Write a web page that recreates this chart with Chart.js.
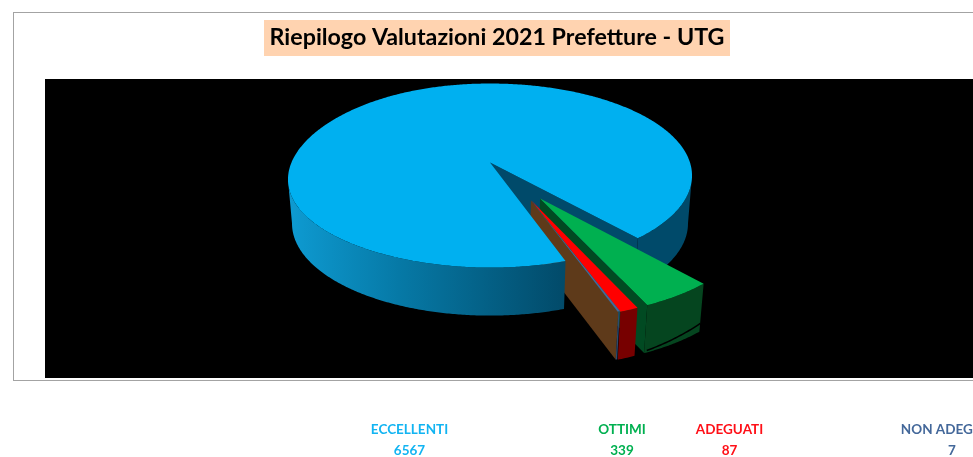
<!DOCTYPE html>
<html>
<head>
<meta charset="utf-8">
<style>html,body{margin:0;padding:0;background:#fff;overflow:hidden}canvas{display:block}</style>
<script src="https://cdn.jsdelivr.net/npm/chart.js@4"></script>
</head>
<body>
<canvas id="c" width="973" height="457"></canvas>
<script>
const chartTitle = 'Riepilogo Valutazioni 2021 Prefetture - UTG';
const categories = ['ECCELLENTI', 'OTTIMI', 'ADEGUATI', 'NON ADEGUATI'];
const values = [6567, 339, 87, 7];
const topColors = ['#00B0F0', '#00B050', '#FF0000', '#44689A'];
const labelColors = ['#12B4F2', '#00B050', '#FF1018', '#44689A'];
const labelCentres = [409.5, 622, 729.5, 952];
const explode = [[0, 0], [0.237, 0.378], [0.195, 0.398], [0.193, 0.395]];

const PERSP = 0.1413, SCALE_X = 200, SCALE_Y = 90.2, DEPTH = 48, SHRINK = 0.98;
const rad = d => d * Math.PI / 180;

const pie3d = {
  id: 'pie3d',
  afterLayout(chart) {
    chart.titleBlock.left = 264;
    chart.titleBlock.right = 730;
    chart.titleBlock.width = 466;
  },
  beforeDraw(chart) {
    const c = chart.ctx;
    c.save();
    c.fillStyle = '#fff'; c.fillRect(0, 0, 973, 457);
    c.strokeStyle = '#a3a3a3'; c.lineWidth = 1;
    c.strokeRect(13.5, 12.5, 1100, 368);
    c.fillStyle = '#FFD3B0'; c.fillRect(264, 20, 466, 36);
    c.fillStyle = '#000'; c.fillRect(45, 79, 940, 299);
    c.restore();
  },
  beforeDatasetsDraw(chart) {
    const c = chart.ctx;
    const arcs = chart.getDatasetMeta(0).data;
    const first = arcs[0];
    const cx = first.x, cy = first.y;
    // project a point of the pie plane (radius-1 units) to the screen
    const pt = (i, r, a, d) => {
      const u = explode[i][0] + r * Math.cos(a);
      const v = explode[i][1] + r * Math.sin(a);
      const w = 1 - PERSP * v;
      const s = 1 - (1 - SHRINK) * d;
      const droop = u < 0 ? 4 * Math.pow(-u, 3) * (1 - d) : 0;
      return [cx + (SCALE_X * u / w) * s, cy + SCALE_Y * v / w + DEPTH * d + droop];
    };
    const arcPts = (i, a0, a1, d) => {
      const n = Math.max(2, Math.ceil(Math.abs(a1 - a0) / rad(0.5)));
      const out = [];
      for (let k = 0; k <= n; k++) out.push(pt(i, 1, a0 + (a1 - a0) * k / n, d));
      return out;
    };
    const fillPoly = (pts, fill) => {
      c.beginPath();
      pts.forEach((p, k) => k ? c.lineTo(p[0], p[1]) : c.moveTo(p[0], p[1]));
      c.closePath();
      c.fillStyle = fill;
      c.fill();
    };
    const wall = (i, a0, a1, fill) =>
      fillPoly(arcPts(i, a0, a1, 0).concat(arcPts(i, a0, a1, 1).reverse()), fill);
    const face = (i, a, fill) =>
      fillPoly([pt(i, 0, a, 0), pt(i, 1, a, 0), pt(i, 1, a, 1), pt(i, 0, a, 1)], fill);
    const top = (i, a0, a1, fill) =>
      fillPoly([pt(i, 0, a0, 0)].concat(arcPts(i, a0, a1, 0)), fill);

    const colors = chart.data.datasets[0].backgroundColor;
    const blueStart = first.startAngle, blueEnd = first.endAngle;
    const sideAngle = Math.asin(PERSP);

    c.save();
    c.beginPath(); c.rect(45, 79, 940, 299); c.clip();

    // far side of the large slice: right silhouette to the cut
    face(0, blueEnd, '#004A6A');
    const turn = Math.floor(blueEnd / (Math.PI * 2)) * Math.PI * 2;
    wall(0, turn + sideAngle, blueEnd, '#004A6A');

    // OTTIMI
    const g = arcs[1];
    face(1, g.endAngle, '#014A22');
    wall(1, g.startAngle, g.endAngle, '#05451F');
    const line = [];
    for (let k = 0; k <= 30; k++) {
      const t = k / 30;
      line.push(pt(1, 1, g.startAngle + (g.endAngle - g.startAngle) * t * 0.96, 0.83 + 0.13 * t));
    }
    c.beginPath();
    line.forEach((p, k) => k ? c.lineTo(p[0], p[1]) : c.moveTo(p[0], p[1]));
    c.strokeStyle = '#000'; c.lineWidth = 1.5; c.stroke();
    top(1, g.startAngle, g.endAngle, colors[1]);

    // ADEGUATI
    const r = arcs[2];
    wall(2, r.startAngle, r.endAngle, '#770000');
    top(2, r.startAngle, r.endAngle, colors[2]);

    // NON ADEGUATI
    const n = arcs[3];
    face(3, n.endAngle, '#5E3A1A');
    wall(3, n.startAngle, n.endAngle, '#2C4A70');
    top(3, n.startAngle - rad(0.1), n.endAngle + rad(0.15), colors[3]);

    // near side of the large slice: cut to the left silhouette
    const grad = c.createLinearGradient(288, 0, 566, 0);
    grad.addColorStop(0, '#0E9BD2');
    grad.addColorStop(0.4, '#0679A6');
    grad.addColorStop(1, '#024A69');
    wall(0, blueStart, Math.PI - sideAngle, grad);
    top(0, blueStart, blueEnd, colors[0]);
    c.restore();
    return false;
  },
  afterDraw(chart) {
    const c = chart.ctx;
    c.save();
    c.font = 'bold 13.5px Lato';
    c.textAlign = 'center';
    c.textBaseline = 'middle';
    categories.forEach((name, i) => {
      c.fillStyle = labelColors[i];
      c.fillText(name, labelCentres[i], 429.5);
      c.fillText(String(values[i]), labelCentres[i], 450.5);
    });
    c.restore();
  }
};

new Chart(document.getElementById('c'), {
  type: 'pie',
  data: {
    labels: categories,
    datasets: [{ data: values, backgroundColor: topColors, borderWidth: 0 }]
  },
  options: {
    responsive: false,
    animation: false,
    rotation: 160.9,
    layout: { padding: { left: 7, right: 0, top: 24, bottom: 183.8 } },
    plugins: {
      legend: { display: false },
      tooltip: { enabled: false },
      title: {
        display: true,
        text: chartTitle,
        color: '#000',
        padding: 0,
        font: { family: 'Lato', size: 23.25, weight: 'bold', lineHeight: 1.2 }
      }
    }
  },
  plugins: [pie3d]
});
</script>
</body>
</html>
